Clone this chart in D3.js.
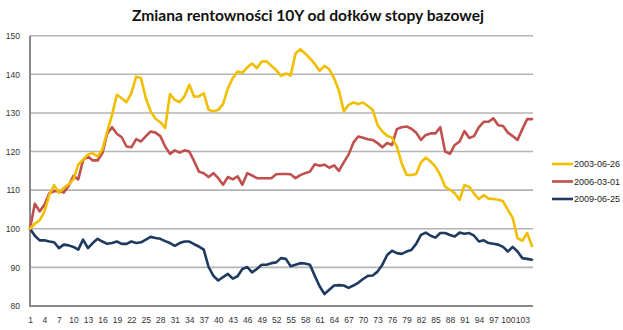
<!DOCTYPE html>
<html>
<head>
<meta charset="utf-8">
<script src="https://cdn.jsdelivr.net/npm/d3@7"></script>
<style>
  html, body { margin: 0; padding: 0; background: #ffffff; }
  svg { display: block; }
</style>
</head>
<body>
<svg id="chart" width="623" height="330"></svg>
<script>
// Observation index (1..105) along the horizontal axis
const categories = d3.range(1, 106);

// Yield change, rebased to 100 at each base-rate trough
const s2003 = [
  100, 101.3, 102.2, 104.5, 108.8, 111.3, 109.3, 110.6, 111.5, 112.8,
  116.6, 117.9, 119.2, 119.6, 118.7, 120.5, 125.2, 129.5, 134.7, 133.8,
  132.8, 135.1, 139.4, 139.0, 133.8, 130.4, 128.5, 127.6, 126.1, 134.9,
  133.4, 132.8, 134.3, 137.3, 134.2, 134.3, 135.1, 130.8, 130.4, 130.8,
  132.3, 136.4, 139.0, 140.7, 140.4, 141.8, 142.8, 141.6, 143.3, 143.4,
  142.2, 141.1, 139.6, 140.2, 139.7, 145.4, 146.5, 145.4, 144.1, 142.7,
  140.9, 142.2, 141.3, 139.0, 135.8, 130.4, 132.1, 132.7, 132.3, 132.7,
  131.8, 130.8, 126.9, 125.2, 124.1, 123.6, 121.3, 117.0, 114.0, 113.9,
  114.2, 117.2, 118.4, 117.4, 116.1, 113.9, 110.9, 110.1, 109.2, 107.5,
  111.3, 110.8, 109.1, 107.7, 108.7, 107.8, 107.7, 107.5, 107.1, 104.9,
  102.8, 97.6, 96.9, 98.9, 95.5
];
const s2006 = [
  100, 106.5, 104.5, 106.2, 109.2, 109.7, 109.8, 109.4, 111.1, 113.7,
  112.8, 117.8, 118.7, 117.7, 117.7, 119.6, 124.7, 126.3, 124.6, 123.7,
  121.3, 121.1, 123.2, 122.6, 124.0, 125.2, 124.9, 124.0, 121.3, 119.4,
  120.3, 119.7, 120.3, 120.0, 117.5, 114.8, 114.4, 113.4, 114.4, 113.1,
  111.4, 113.4, 112.8, 113.6, 111.4, 114.4, 113.8, 113.1, 113.1, 113.1,
  113.1, 114.1, 114.2, 114.2, 114.1, 113.1, 113.9, 114.4, 114.8, 116.7,
  116.3, 116.6, 115.8, 116.4, 115.0, 117.2, 119.2, 122.3, 123.9, 123.6,
  123.2, 123.0, 122.2, 121.1, 122.2, 121.7, 125.8, 126.3, 126.5, 125.9,
  124.9, 123.0, 124.3, 124.7, 124.7, 126.3, 120.0, 119.4, 121.7, 122.6,
  125.3, 123.5, 124.0, 126.3, 127.7, 127.7, 128.6, 126.8, 126.6, 124.9,
  124.0, 123.0, 125.8, 128.4, 128.4
];
const s2009 = [
  100, 98.2, 97.0, 97.0, 96.7, 96.5, 95.0, 95.9, 95.7, 95.3,
  94.6, 97.2, 95.0, 96.3, 97.4, 96.7, 96.1, 96.3, 96.7, 96.1,
  96.1, 96.7, 96.3, 96.5, 97.2, 97.9, 97.6, 97.4, 96.8, 96.3,
  95.6, 96.3, 96.7, 96.7, 96.0, 95.4, 94.6, 90.1, 87.8, 86.6,
  87.5, 88.3, 87.1, 87.7, 89.6, 90.1, 88.7, 89.6, 90.7, 90.7,
  91.1, 91.3, 92.4, 92.2, 90.3, 90.7, 91.1, 91.0, 90.7, 87.8,
  85.1, 83.1, 84.2, 85.3, 85.4, 85.3, 84.7, 85.3, 86.0, 87.0,
  87.8, 87.9, 88.9, 90.7, 93.2, 94.3, 93.7, 93.5, 94.1, 94.5,
  96.1, 98.4, 99.0, 98.2, 97.7, 98.9, 98.9, 98.4, 98.0, 99.0,
  98.7, 98.9, 98.2, 96.7, 97.0, 96.3, 96.1, 95.9, 95.3, 94.1,
  95.3, 94.1, 92.4, 92.2, 92.0
];

const seriesNames = ["2003-06-26", "2006-03-01", "2009-06-25"];
const seriesColors = ["#F2BE00", "#C0504D", "#1F3A60"];
const yTicks = [80, 90, 100, 110, 120, 130, 140, 150];
const xTicks = categories.filter(c => (c - 1) % 3 === 0);
const title = "Zmiana rentowności 10Y od dołków stopy bazowej";

const svg = d3.select("#chart");
svg.append("rect").attr("width", 623).attr("height", 330).attr("fill", "#fff");

const plot = { left: 30, right: 532, top: 35.7, bottom: 306 };

const x = d3.scalePoint().domain(categories).range([plot.left, plot.right]);
const y = d3.scaleLinear().domain([80, 150]).range([plot.bottom, plot.top]);

// horizontal gridlines
svg.append("g")
  .selectAll("line")
  .data(yTicks.filter(t => t > 80))
  .join("line")
  .attr("x1", plot.left).attr("x2", plot.right + 1)
  .attr("y1", d => y(d)).attr("y2", d => y(d))
  .attr("stroke", "#b4b4b4").attr("stroke-width", 1.6);

// y axis labels
const yAxis = svg.append("g")
  .attr("transform", `translate(${plot.left},0)`)
  .call(d3.axisLeft(y).tickValues(yTicks).tickSize(0).tickPadding(10));
yAxis.select(".domain").remove();
yAxis.selectAll("text")
  .attr("font-family", "'Liberation Sans', Arial, sans-serif")
  .attr("font-size", 8.5).attr("fill", "#333");

// x axis labels
const xAxis = svg.append("g")
  .attr("transform", `translate(0,${plot.bottom})`)
  .call(d3.axisBottom(x).tickValues(xTicks).tickSize(0).tickPadding(11));
xAxis.select(".domain").remove();
xAxis.selectAll("text")
  .attr("font-family", "'Liberation Sans', Arial, sans-serif")
  .attr("font-size", 8.5).attr("fill", "#333");

// axis lines
svg.append("line")
  .attr("x1", plot.left).attr("x2", plot.left)
  .attr("y1", plot.top).attr("y2", plot.bottom + 1)
  .attr("stroke", "#8a8a8a").attr("stroke-width", 2);
svg.append("line")
  .attr("x1", plot.left - 1).attr("x2", plot.right + 1)
  .attr("y1", plot.bottom).attr("y2", plot.bottom)
  .attr("stroke", "#8a8a8a").attr("stroke-width", 2);

// series lines
const allSeries = [s2003, s2006, s2009];
const line = d3.line()
  .x((d, i) => x(categories[i]))
  .y(d => y(d));

svg.append("g")
  .selectAll("path")
  .data(allSeries.slice().reverse())
  .join("path")
  .attr("d", d => line(d))
  .attr("fill", "none")
  .attr("stroke", (d, i) => seriesColors[seriesColors.length - 1 - i])
  .attr("stroke-width", 2.6)
  .attr("stroke-linejoin", "round")
  .attr("stroke-linecap", "round");

// legend
const legend = svg.append("g");
seriesNames.forEach((name, i) => {
  const ly = 164 + i * 17.5;
  legend.append("line")
    .attr("x1", 552).attr("x2", 573)
    .attr("y1", ly).attr("y2", ly)
    .attr("stroke", seriesColors[i]).attr("stroke-width", 2.6);
  legend.append("text")
    .attr("x", 574).attr("y", ly + 3.2)
    .attr("font-family", "'Liberation Sans', Arial, sans-serif")
    .attr("font-size", 9).attr("fill", "#222")
    .text(name);
});

// title
svg.append("text")
  .attr("x", 308).attr("y", 21)
  .attr("text-anchor", "middle")
  .attr("font-family", "Lato, 'Open Sans', sans-serif")
  .attr("font-weight", "bold")
  .attr("font-size", 16)
  .attr("fill", "#111")
  .attr("textLength", 352)
  .attr("lengthAdjust", "spacingAndGlyphs")
  .text(title);
</script>
</body>
</html>
